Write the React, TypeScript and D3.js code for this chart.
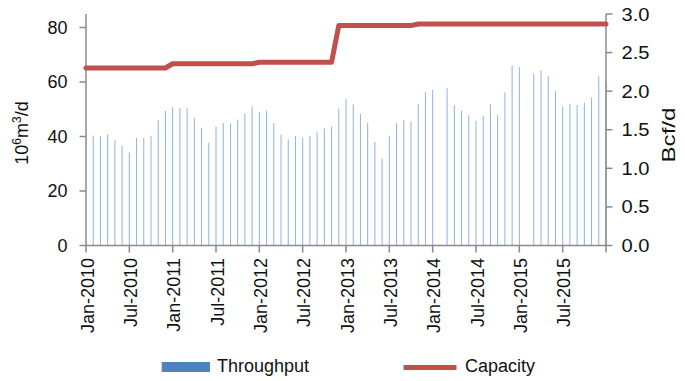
import React from 'react';
import * as d3 from 'd3';

const years = [2010, 2011, 2012, 2013, 2014, 2015];
const monthNames = ['Jan', 'Feb', 'Mar', 'Apr', 'May', 'Jun', 'Jul', 'Aug', 'Sep', 'Oct', 'Nov', 'Dec'];
const categories = years.flatMap((y) => monthNames.map((m) => `${m}-${y}`));

const tickLabels = [
  'Jan-2010', 'Jul-2010', 'Jan-2011', 'Jul-2011', 'Jan-2012', 'Jul-2012',
  'Jan-2013', 'Jul-2013', 'Jan-2014', 'Jul-2014', 'Jan-2015', 'Jul-2015',
];

// Throughput, 10^6 m3/d (monthly)
const throughput: (number | null)[] = [
  40.3, 40.1, 40.8, 38.8, 36.7, 34.1, 39.5, 39.5, 40.2, 46.0, 49.4, 50.7,
  50.6, 50.4, 46.7, 43.2, 37.8, 43.6, 45.0, 44.8, 46.2, 48.5, 51.0, 49.0,
  49.5, 45.0, 40.7, 38.9, 40.2, 39.5, 40.2, 41.6, 43.0, 43.7, 50.3, 53.8,
  51.8, 48.3, 45.1, 38.0, 31.9, 40.1, 44.9, 46.0, 45.5, 52.0, 56.2, 57.1,
  null, 57.7, 51.5, 49.4, 47.8, 45.8, 47.6, 51.8, 47.8, 56.2, 66.0, 65.4,
  null, 63.0, 64.3, 62.3, 56.7, 51.1, 52.0, 51.6, 52.4, 54.3, 62.1, 60.0,
];

// Capacity, Bcf/d (monthly)
const capacity: number[] = [
  2.30, 2.30, 2.30, 2.30, 2.30, 2.30, 2.30, 2.30, 2.30, 2.30, 2.30, 2.30,
  2.355, 2.355, 2.355, 2.355, 2.355, 2.355, 2.355, 2.355, 2.355, 2.355, 2.355, 2.355,
  2.375, 2.375, 2.375, 2.375, 2.375, 2.375, 2.375, 2.375, 2.375, 2.375, 2.375, 2.85,
  2.85, 2.85, 2.85, 2.85, 2.85, 2.85, 2.85, 2.85, 2.85, 2.85, 2.87, 2.87,
  2.87, 2.87, 2.87, 2.87, 2.87, 2.87, 2.87, 2.87, 2.87, 2.87, 2.87, 2.87,
  2.87, 2.87, 2.87, 2.87, 2.87, 2.87, 2.87, 2.87, 2.87, 2.87, 2.87, 2.87,
];

const leftTicks = [0, 20, 40, 60, 80];
const rightTicks = [0, 0.5, 1, 1.5, 2, 2.5, 3];
const BCF_TO_MCM = 28.317;

export default function App() {
  const W = 685, H = 381;
  const L = 86, R = 606, T = 14, B = 245.5;
  const font = 'Liberation Sans, Arial, sans-serif';
  const axisColor = '#8a8a8a';

  const x = d3.scaleBand<string>().domain(categories).range([L, R]).padding(0);
  const bw = x.bandwidth();
  const yL = d3.scaleLinear().domain([0, 3 * BCF_TO_MCM]).range([B, T]);
  const yR = d3.scaleLinear().domain([0, 3]).range([B, T]);

  const pts: [number, number][] = capacity.map((v, i) => [x(categories[i])!, yR(v)]);
  pts.push([x(categories[categories.length - 1])! + bw, yR(capacity[capacity.length - 1])]);
  const linePath = d3.line()(pts) || '';

  const tickIdx = d3.range(0, categories.length + 1, 6);

  return (
    <svg width={W} height={H} style={{ position: 'absolute', left: 0, top: 0, background: '#fff' }}
      fontFamily={font} fontSize={18}>
      <rect x={0} y={0} width={W} height={H} fill="#fff" />
      {/* bars */}
      {throughput.map((v, i) =>
        v == null ? null : (
          <rect key={i} x={x(categories[i])! + bw - 0.5} y={yL(v)} width={1}
            height={B - yL(v)} fill="#93b1de" />
        )
      )}
      {/* axes */}
      <line x1={L} x2={L} y1={T} y2={B} stroke={axisColor} strokeWidth={1.5} />
      <line x1={R} x2={R} y1={T} y2={B} stroke={axisColor} strokeWidth={1.5} />
      <line x1={L} x2={R} y1={B} y2={B} stroke={axisColor} strokeWidth={1.5} />
      {leftTicks.map((t) => (
        <g key={'l' + t}>
          <line x1={L - 6.5} x2={L} y1={yL(t)} y2={yL(t)} stroke={axisColor} strokeWidth={1.5} />
          <text x={67.5} y={yL(t) + 6.5} textAnchor="end" fill="#111">{t}</text>
        </g>
      ))}
      {rightTicks.map((t) => (
        <g key={'r' + t}>
          <line x1={R} x2={R + 6.5} y1={yR(t)} y2={yR(t)} stroke={axisColor} strokeWidth={1.5} />
          <text x={621.5} y={yR(t) + 6.5} textAnchor="start" fill="#111"
            textLength={28} lengthAdjust="spacingAndGlyphs">{t.toFixed(1)}</text>
        </g>
      ))}
      {tickIdx.map((i) => (
        <line key={'xt' + i} x1={L + i * bw} x2={L + i * bw} y1={B} y2={B + 7}
          stroke={axisColor} strokeWidth={1.5} />
      ))}
      {tickLabels.map((lab) => {
        const cx = x(lab)! + 7.5;
        return (
          <text key={lab} transform={`translate(${cx},258) rotate(-90)`} textAnchor="end" fill="#111">
            {lab}
          </text>
        );
      })}
      {/* axis titles */}
      <text transform="translate(27.5,133) rotate(-90)" textAnchor="middle" fill="#111">
        10<tspan fontSize={12} dy={-7}>6</tspan><tspan dy={7}>m</tspan>
        <tspan fontSize={12} dy={-7}>3</tspan><tspan dy={7}>/d</tspan>
      </text>
      <text transform="translate(675,135) rotate(-90)" textAnchor="middle" fill="#111"
        textLength={55} lengthAdjust="spacingAndGlyphs">Bcf/d</text>
      {/* capacity line */}
      <path d={linePath} fill="none" stroke="#c0504d" strokeWidth={5}
        strokeLinejoin="round" strokeLinecap="round" />
      {/* legend */}
      <rect x={161.7} y={362} width={48.3} height={10} fill="#4f81bd" />
      <text x={217} y={371.5} fill="#111">Throughput</text>
      <line x1={403.5} x2={456.5} y1={367.5} y2={367.5} stroke="#c0504d" strokeWidth={5} />
      <text x={465} y={371.5} fill="#111">Capacity</text>
    </svg>
  );
}
